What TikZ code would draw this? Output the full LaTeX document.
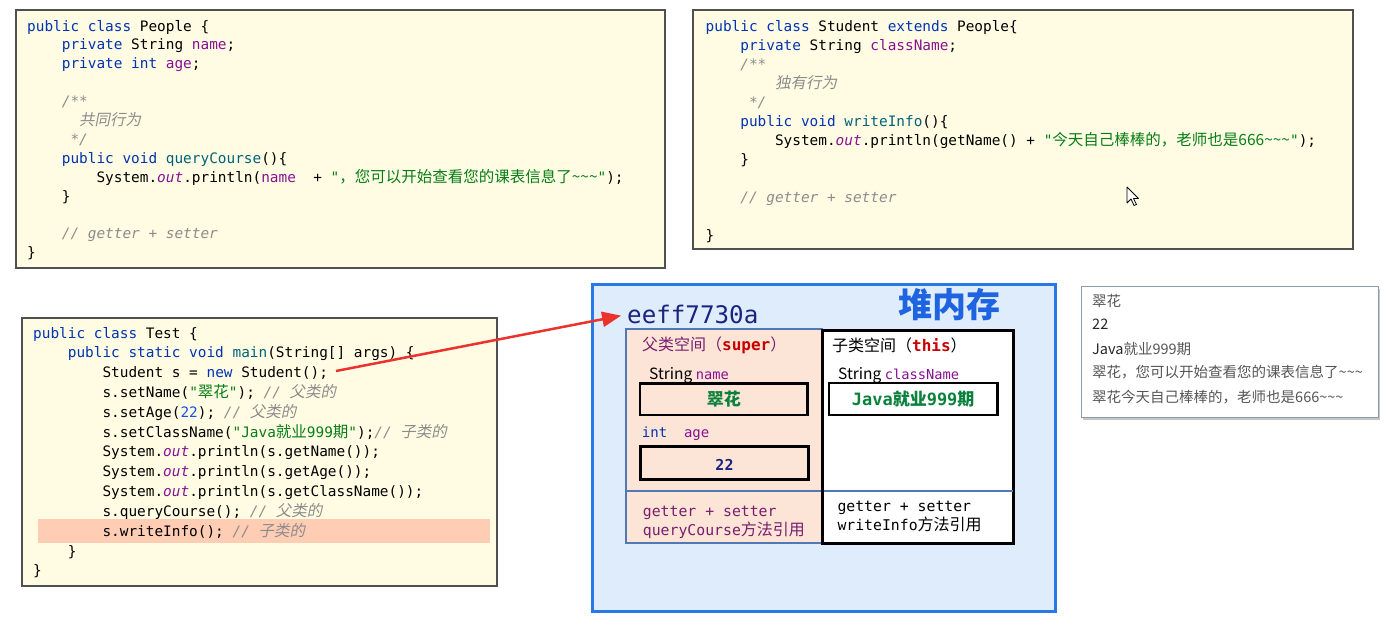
\documentclass[tikz,border=0pt]{standalone}
\usepackage{fontspec}
\usetikzlibrary{arrows.meta,shadows}
\newfontfamily\codef{DejaVu Sans Mono}
\newfontfamily\cjk{Noto Sans CJK SC}
\newfontfamily\cjkit{Noto Sans CJK SC}[FakeSlant=0.2]
\definecolor{kwc}{RGB}{0,51,179}
\definecolor{flc}{RGB}{135,16,148}
\definecolor{mdc}{RGB}{0,98,122}
\definecolor{strc}{RGB}{6,125,23}
\definecolor{numc}{RGB}{23,80,235}
\definecolor{cmc}{RGB}{140,140,140}
\definecolor{codebg}{RGB}{255,252,227}
\definecolor{codeb}{RGB}{80,80,80}
\definecolor{hilite}{RGB}{255,204,180}
\definecolor{heapbg}{RGB}{222,236,251}
\definecolor{heapb}{RGB}{40,120,230}
\definecolor{peach}{RGB}{252,228,214}
\definecolor{bluegray}{RGB}{80,120,180}
\definecolor{arrowred}{RGB}{235,50,45}
\definecolor{lblp}{RGB}{120,30,110}
\definecolor{redc}{RGB}{200,0,0}
\definecolor{valgreen}{RGB}{10,130,60}
\definecolor{navy}{RGB}{26,35,126}
\definecolor{titleblue}{RGB}{30,100,225}
\definecolor{outgray}{RGB}{85,85,85}
\newlength\cwid
\settowidth{\cwid}{\codef\fontsize{14.4}{18}\selectfont 0}
\newcommand\ind[1]{\hspace*{#1\cwid}}
\newcommand\kw[1]{{\color{kwc}#1}}
\newcommand\jfl[1]{{\color{flc}#1}}
\newcommand\jout[1]{{\color{flc}\itshape #1}}
\newcommand\jmd[1]{{\color{mdc}#1}}
\newcommand\jstr[1]{{\color{strc}#1}}
\newcommand\jnum[1]{{\color{numc}#1}}
\newcommand\jcm[1]{{\color{cmc}\itshape #1}}
\newcommand\zh[1]{{\cjk\fontsize{15.5}{18}\selectfont #1}}
\newcommand\zhi[1]{{\cjkit\fontsize{15.5}{18}\selectfont #1}}
\newcommand\tld{\textasciitilde}
\tikzset{
  box/.style={rectangle, anchor=north west, inner sep=0pt, outer sep=0pt},
  codebox/.style={box, fill=codebg, draw=codeb, line width=1.2pt},
  codetext/.style={inner sep=0pt, anchor=base west, align=left},
  txt/.style={inner sep=0pt, anchor=base west},
  valbox/.style={box, draw=black, line width=2.5pt},
  outline/.style={txt, font=\cjk\fontsize{14.5}{16}\selectfont, text=outgray},
  redarrow/.style={draw=arrowred, line width=2.5pt, -{Triangle[length=19pt,width=15pt]}, shorten >=6pt}
}
\begin{document}
\begin{tikzpicture}[x=1pt,y=-1pt]
\useasboundingbox[fill=white] (0,0) rectangle (1393,625);

% ---------- People ----------
\node[codebox, minimum width=649pt, minimum height=258pt] (peoplebox) at (16,10) {};
\node[codetext, font=\codef\fontsize{14.4}{18.9}\selectfont] (peoplecode) at (27,31) {\begin{tabular}[t]{@{}l@{}}
\kw{public class} People \{\\
\ind{4}\kw{private} String \jfl{name};\\
\ind{4}\kw{private int} \jfl{age};\\
\mbox{}\\
\ind{4}\jcm{/**}\\
\ind{6}\zhi{\color{cmc}共同行为}\\
\ind{5}\jcm{*/}\\
\ind{4}\kw{public void} \jmd{queryCourse}()\{\\
\ind{8}System.\jout{out}.println(\jfl{name}\ \ + \jstr{"\zh{，您可以开始查看您的课表信息了\tld\tld\tld}"});\\
\ind{4}\}\\
\mbox{}\\
\ind{4}\jcm{// getter + setter}\\
\}
\end{tabular}};

% ---------- Student ----------
\node[codebox, minimum width=660pt, minimum height=239pt] (studentbox) at (693,10) {};
\node[codetext, font=\codef\fontsize{14.4}{19.06}\selectfont] (studentcode) at (705.5,31) {\begin{tabular}[t]{@{}l@{}}
\kw{public class} Student \kw{extends} People\{\\
\ind{4}\kw{private} String \jfl{className};\\
\ind{4}\jcm{/**}\\
\ind{8}\zhi{\color{cmc}独有行为}\\
\ind{5}\jcm{*/}\\
\ind{4}\kw{public void} \jmd{writeInfo}()\{\\
\ind{8}System.\jout{out}.println(getName() + \jstr{"\zh{今天自己棒棒的，老师也是666\tld\tld\tld}"});\\
\ind{4}\}\\
\mbox{}\\
\ind{4}\jcm{// getter + setter}\\
\mbox{}\\
\}
\end{tabular}};

% mouse cursor
\draw[fill=white, draw=black, line width=0.8pt, line join=round] (1127,187) -- ++(0,16) -- ++(4,-4) -- ++(3,6.5) -- ++(2.5,-1) -- ++(-3,-6) -- ++(5,0) -- cycle;

% ---------- Test ----------
\node[codebox, minimum width=475pt, minimum height=268pt] (testbox) at (22,318) {};
\node[box, fill=hilite, minimum width=452pt, minimum height=24pt] (hl) at (38,519) {};
\node[codetext, font=\codef\fontsize{14.4}{19.83}\selectfont] (testcode) at (33,338) {\begin{tabular}[t]{@{}l@{}}
\kw{public class} Test \{\\
\ind{4}\kw{public static void} \jmd{main}(String[] args) \{\\
\ind{8}Student s = \kw{new} Student();\\
\ind{8}s.setName(\jstr{"\zh{翠花}"}); \jcm{// \zhi{父类的}}\\
\ind{8}s.setAge(\jnum{22}); \jcm{// \zhi{父类的}}\\
\ind{8}s.setClassName(\jstr{"Java\zh{就业}999\zh{期}"});\jcm{// \zhi{子类的}}\\
\ind{8}System.\jout{out}.println(s.getName());\\
\ind{8}System.\jout{out}.println(s.getAge());\\
\ind{8}System.\jout{out}.println(s.getClassName());\\
\ind{8}s.queryCourse(); \jcm{// \zhi{父类的}}\\
\ind{8}s.writeInfo(); \jcm{// \zhi{子类的}}\\
\ind{4}\}\\
\}
\end{tabular}};
\coordinate (arrS) at (336,371);

% ---------- Heap ----------
\node[box, fill=heapbg, draw=heapb, line width=3pt, minimum width=463pt, minimum height=327pt] (heap) at (592.5,284.5) {};
\node[txt, font=\codef\fontsize{24.2}{26}\selectfont, text=navy] (addr) at (627,323.5) {eeff7730a};
\node[inner sep=0pt, font=\cjk\bfseries\fontsize{34}{36}\selectfont, text=titleblue] (heaptitle) at (949,305) {堆内存};

\node[box, fill=peach, draw=bluegray, line width=2pt, minimum width=196.3pt, minimum height=214pt] (super) at (625.7,329.3) {};
\node[box, fill=white, draw=black, line width=3pt, minimum width=191pt, minimum height=213pt] (sub) at (822,330) {};
\coordinate (divc) at (700,491);
\draw[draw=bluegray, line width=2.2pt] (super.west |- divc) -- (sub.east |- divc);
\draw[draw=black, line width=3pt] (sub.north west) -- (sub.south west);

\node[txt, font=\cjk\fontsize{16}{18}\selectfont] (superlbl) at (642,350) {{\color{lblp}父类空间（}{\codef\bfseries\color{redc}super}{\color{lblp}）}};
\node[txt, font=\cjk\fontsize{16}{18}\selectfont] (sublbl) at (832,351.5) {子类空间（{\codef\bfseries\color{redc}this}）};

\node[txt, font=\cjk\fontsize{15.5}{18}\selectfont] (namelbl) at (649,379.5) {String {\codef\fontsize{13.7}{16}\selectfont\color{flc}name}};
\node[txt, font=\cjk\fontsize{15.5}{18}\selectfont] (cnlbl) at (838,379.5) {String {\codef\fontsize{13.7}{16}\selectfont\color{flc}className}};

\node[valbox, minimum width=167.7pt, minimum height=31.7pt] (namebox) at (640,383.3) {};
\node[valbox, fill=white, minimum width=168.3pt, minimum height=32pt] (cnbox) at (829,383) {};
\node[inner sep=0pt, font=\cjk\bfseries\fontsize{17}{19}\selectfont, text=valgreen] (nameval) at (namebox.center) {翠花};
\node[inner sep=0pt, font=\codef\bfseries\fontsize{17}{19}\selectfont, text=valgreen] (cnval) at (cnbox.center) {Java{\cjk\bfseries 就业}999{\cjk\bfseries 期}};

\node[txt, font=\codef\fontsize{14}{16}\selectfont] (agelbl) at (641.7,437) {{\color{kwc}int}\ \ {\color{flc}age}};
\node[valbox, minimum width=167.6pt, minimum height=32.6pt] (agebox) at (640.7,446.7) {};
\node[inner sep=0pt, font=\codef\bfseries\fontsize{15}{17}\selectfont, text=navy] (ageval) at ([yshift=-2pt]agebox.center) {22};

\node[txt, font=\codef\fontsize{14.8}{17}\selectfont, text=lblp] (gsl) at (642.7,516) {getter + setter};
\node[txt, font=\codef\fontsize{14.8}{17}\selectfont, text=lblp] (qcl) at (642.7,535.5) {queryCourse{\cjk\fontsize{16}{18}\selectfont 方法引用}};
\node[txt, font=\codef\fontsize{14.8}{17}\selectfont] (gsr) at (837.3,511.5) {getter + setter};
\node[txt, font=\codef\fontsize{14.8}{17}\selectfont] (wir) at (837.3,530.5) {writeInfo{\cjk\fontsize{16}{18}\selectfont 方法引用}};

\draw[redarrow] (arrS) -- (addr.west);

% ---------- Output ----------
\node[box, fill=white, draw={rgb,255:red,140;green,155;blue,175}, line width=1pt, minimum width=297pt, minimum height=131pt,
  drop shadow={shadow xshift=1.5pt, shadow yshift=-2.5pt, fill=black!45}] (outbox) at (1081,286) {};
\node[outline] (o1) at (1092,306) {翠花};
\node[outline, text=black!85] (o2) at (1092,329.5) {22};
\node[outline] (o3) at (1092,354.5) {{\color{black!85}Java}就业999期};
\node[outline] (o4) at (1092,377) {翠花，您可以开始查看您的课表信息了\tld\tld\tld};
\node[outline] (o5) at (1092,402) {翠花今天自己棒棒的，老师也是666\tld\tld\tld};
\end{tikzpicture}
\end{document}
